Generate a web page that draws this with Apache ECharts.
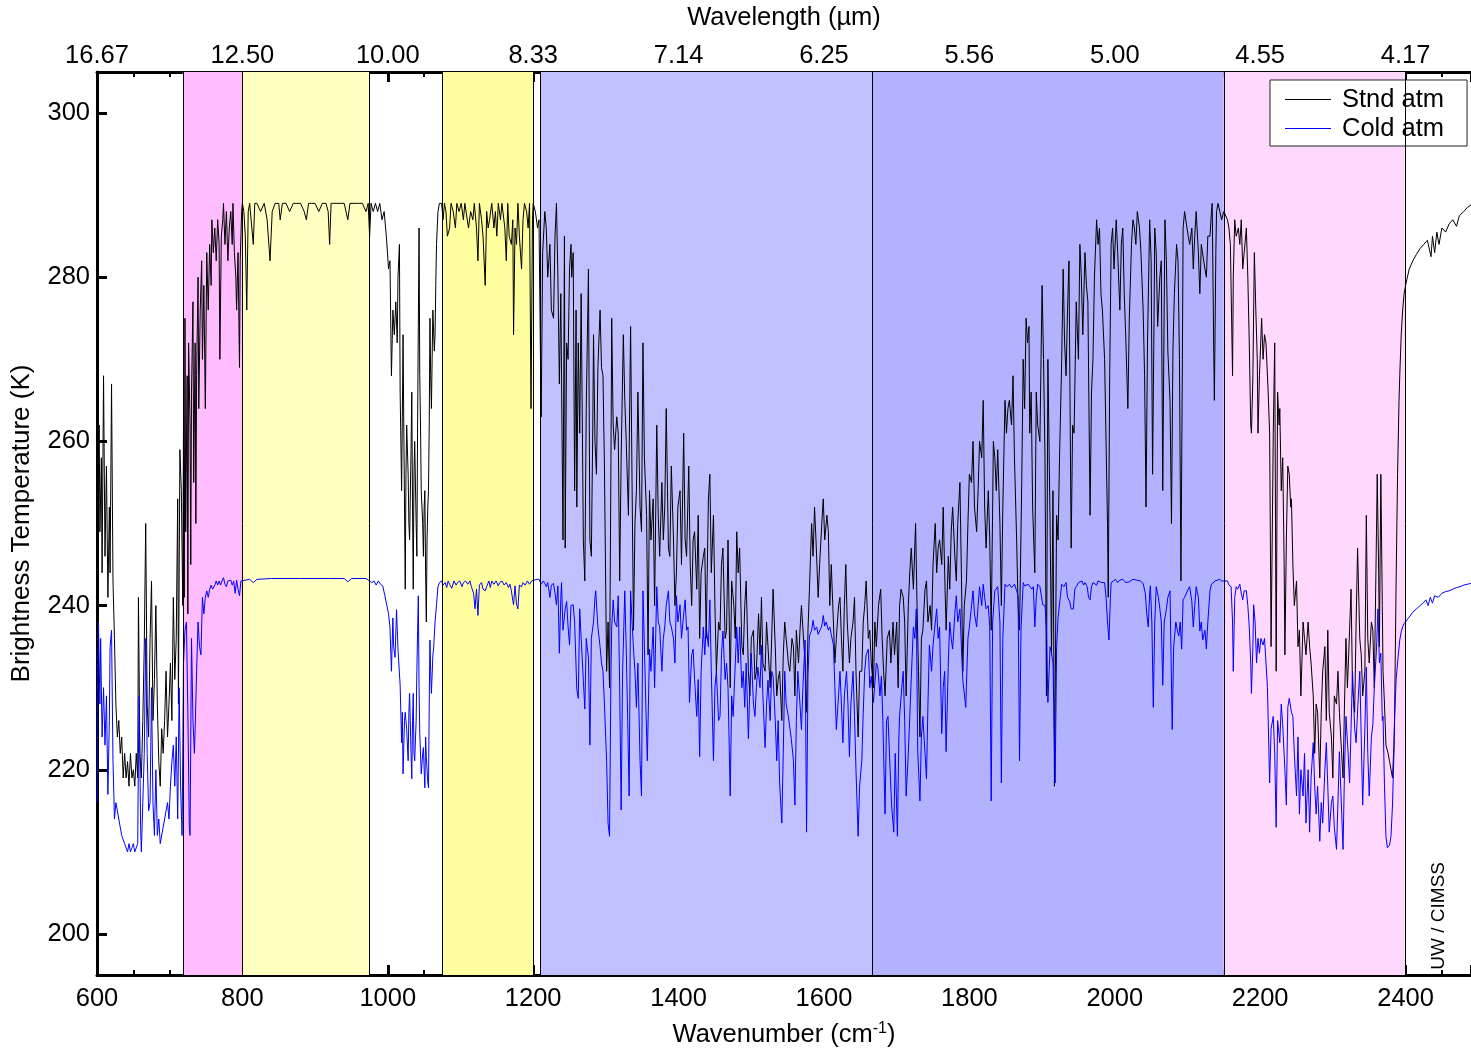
<!DOCTYPE html>
<html>
<head>
<meta charset="utf-8">
<title>Brightness temperature spectra</title>
<script src="https://cdn.jsdelivr.net/npm/echarts@6/dist/echarts.min.js"></script>
<style>
  html, body { margin: 0; padding: 0; background: #fff; }
  #chart { width: 1471px; height: 1051px; }
</style>
</head>
<body>
<div id="chart"></div>
<script>
// ---- Spectral bands shaded behind the spectra: [from, to, colour] in cm^-1
const bandEdges = [718, 800, 975, 1075, 1200, 1210, 1666, 2150, 2400];
const bandRanges = [
  [718, 800, '#FFBCFE'],
  [800, 975, '#FFFFC2'],
  [1075, 1200, '#FFFF9F'],
  [1210, 1666, '#C0C0FF'],
  [1666, 2150, '#B2B2FF'],
  [2150, 2400, '#FFD8FE']
];

// ---- Axis ticks
const wavenumberTicks = [600, 800, 1000, 1200, 1400, 1600, 1800, 2000, 2200, 2400];
const temperatureTicks = [200, 220, 240, 260, 280, 300];

// ---- Standard atmosphere brightness temperature [wavenumber cm^-1, K]
const stdCO2Band = [[600,238],[601,252],[603,262],[604,249],[606,258],[607,244],[609,268],[611,246],[613,257],[615,241],[617,252],[618,244],[620,267],[622,243],[624,236],[626,228],[628,224],[630,226],[632,222],[634,224],[636,219],[638,222],[640,219],[642,221],[644,218],[646,222],[648,219],[650,220],[652,218],[654,222],[656,219],[657,241],[659,222],[661,219],[663,226],[665,235],[667,250],[669,228],[671,224],[673,236],[675,243],[677,226],[679,231],[681,240],[683,228],[685,221],[687,218],[689,225],[691,222],[693,226],[695,232],[697,224],[699,228],[701,233],[703,226],[705,241],[707,231],[709,236],[711,253],[712,228],[714,259],[716,254],[718,240],
  [719,262],[720,241],[721,275],[722,249],[724,268],[725,239],[726,272],[728,262],[729,245],[730,266],[732,277],[733,255],[735,272],[736,250],[737,268],[739,280],[740,264],[742,276],[744,282],[745,270],[747,279],[749,264],[751,283],[753,276],[755,284],[757,279],[758,287],[760,283],[762,286],[764,282],[766,287],[768,284],[769,270],[771,285],[773,287],[774,289],[776,284],[778,288],[780,282],[782,286],[784,288],[786,284],[787,289],[789,283],[791,280],[792,276],[794,283],[796,269],[797,282],[799,288]];

const stdWindow = [[800,289],[802,288],[804,285],[806,276],[808,288],[810,289],[812,287],[815,284],[817,289],[820,289],[825,288],[830,289],[834,287],[838,282],[841,288],[845,289],[850,289],[852,287],[855,289],[860,289],[865,288],[870,289],[875,289],[880,289],[885,288],[888,287],[891,289],[895,289],[900,289],[905,288],[910,289],[915,289],[918,288],[920,284],[922,289],[925,289],[930,289],[935,289],[940,289],[945,287],[948,289],[955,289],[960,289],[965,289],[970,288],[973,289],[975,285]];

const stdOzone = [[977,289],[980,288],[983,289],[986,288],[989,289],[992,287],[995,288],[998,285],[1001,281],[1003,282],[1005,268],[1007,276],[1009,273],[1011,277],[1013,272],[1014,280],[1016,284],[1017,266],[1019,254],[1020,263],[1021,273],[1022,262],[1024,242],[1025,256],[1026,262],[1028,256],[1029,250],[1030,248],[1032,259],[1033,266],[1034,252],[1035,242],[1036,256],[1037,260],[1039,250],[1040,246],[1041,262],[1042,274],[1043,286],[1044,268],[1045,262],[1046,254],[1048,250],[1049,246],[1050,252],[1051,254],[1052,244],[1053,238],[1054,248],[1055,252],[1056,254],[1057,262],[1058,275],[1059,268],[1060,264],[1061,270],[1062,276],[1064,271],[1065,273],[1066,279],[1067,284],[1068,286],[1069,288],[1071,289],[1074,289]];

const stdWindow2 = [[1076,287],[1078,289],[1080,288],[1082,285],[1085,286],[1087,289],[1090,288],[1093,286],[1095,289],[1098,288],[1101,289],[1104,287],[1106,289],[1108,289],[1111,286],[1114,288],[1117,287],[1119,289],[1122,286],[1124,282],[1126,289],[1129,287],[1131,285],[1134,279],[1136,288],[1138,286],[1140,287],[1143,289],[1146,286],[1148,288],[1150,285],[1152,289],[1155,287],[1157,289],[1159,289],[1161,286],[1163,282],[1165,289],[1167,285],[1170,284],[1172,287],[1173,273],[1175,286],[1177,284],[1179,289],[1181,285],[1184,281],[1186,287],[1188,289],[1191,288],[1193,286],[1195,289],[1197,264],[1199,287],[1200,289]];

const stdWaterBand = [[1203,288],[1206,286],[1208,287],[1210,270],[1211,263],[1213,283],[1216,288],[1218,286],[1220,280],[1223,284],[1225,276],[1228,275],[1230,285],[1232,289],[1234,280],[1236,267],[1238,278],[1241,248],[1243,285],[1244,247],[1246,272],[1248,270],[1250,281],[1252,284],[1253,280],[1255,283],[1257,254],[1259,276],[1260,252],[1262,272],[1264,261],[1266,278],[1269,248],[1271,243],[1273,264],[1276,281],[1278,248],[1280,246],[1282,262],[1283,273],[1285,260],[1287,256],[1289,269],[1292,276],[1294,269],[1296,268],[1298,257],[1301,232],[1303,238],[1305,230],[1307,258],[1308,275],[1310,262],[1312,259],[1315,263],[1317,261],[1319,243],[1321,258],[1324,273],[1326,265],[1328,260],[1331,251],[1334,274],[1336,255],[1338,237],[1340,250],[1342,254],[1344,266],[1347,252],[1349,249],[1351,272],[1353,258],[1356,251],[1358,234],[1360,254],[1362,248],[1365,253],[1367,240],[1370,262],[1372,251],[1374,246],[1377,255],[1379,248],[1381,252],[1383,264],[1386,247],[1388,246],[1390,257],[1393,248],[1395,240],[1397,244],[1399,252],[1402,254],[1404,245],[1407,261],[1409,248],[1411,246],[1414,257],[1416,245],[1418,240],[1420,248],[1422,249],[1425,242],[1427,251],[1429,236],[1431,244],[1434,246],[1436,247],[1438,236],[1441,253],[1443,256],[1445,244],[1448,251],[1450,240],[1452,232],[1455,238],[1457,237],[1459,245],[1461,247],[1464,236],[1466,237],[1468,248],[1471,230],[1473,243],[1476,240],[1478,236],[1480,249],[1482,244],[1484,247],[1487,235],[1489,234],[1491,240],[1493,243],[1496,232],[1498,229],[1500,236],[1503,237],[1505,231],[1507,232],[1510,239],[1512,234],[1514,241],[1516,233],[1519,232],[1521,238],[1523,235],[1526,230],[1528,236],[1530,242],[1533,235],[1535,229],[1537,231],[1539,232],[1542,226],[1544,234],[1546,238],[1548,238],[1551,233],[1553,232],[1556,236],[1558,235],[1560,229],[1562,237],[1565,233],[1567,237],[1569,240],[1571,240],[1574,233],[1576,227],[1578,237],[1580,242],[1583,250],[1585,246],[1587,252],[1589,248],[1592,241],[1594,245],[1597,250],[1599,253],[1601,248],[1604,251],[1606,249],[1608,240],[1610,245],[1613,238],[1615,233],[1617,236],[1620,240],[1622,241],[1624,236],[1626,232],[1628,240],[1630,245],[1632,238],[1635,233],[1637,236],[1640,238],[1642,241],[1644,232],[1647,224],[1649,232],[1652,232],[1654,238],[1656,240],[1658,243],[1661,236],[1663,237],[1665,233],[1668,230]];

const stdWaterBand2 = [[1670,238],[1672,235],[1675,240],[1678,242],[1680,236],[1682,232],[1684,229],[1687,236],[1690,237],[1692,233],[1695,238],[1697,234],[1700,238],[1702,230],[1704,240],[1706,242],[1709,241],[1711,238],[1713,229],[1716,240],[1718,244],[1720,247],[1723,242],[1726,250],[1728,240],[1730,232],[1732,224],[1734,236],[1736,237],[1739,242],[1741,243],[1743,238],[1746,240],[1748,237],[1750,245],[1753,250],[1755,244],[1757,247],[1759,248],[1762,245],[1764,252],[1766,244],[1768,237],[1771,246],[1773,242],[1775,249],[1777,252],[1780,246],[1782,243],[1784,250],[1787,255],[1789,244],[1791,232],[1793,240],[1796,243],[1798,250],[1800,256],[1803,255],[1805,260],[1807,252],[1810,249],[1812,254],[1814,260],[1817,258],[1819,265],[1821,252],[1823,247],[1826,254],[1828,248],[1830,237],[1832,252],[1833,260],[1835,258],[1837,254],[1839,259],[1842,250],[1844,240],[1846,252],[1849,265],[1851,261],[1853,264],[1855,265],[1858,262],[1860,268],[1862,258],[1865,248],[1867,240],[1869,237],[1872,255],[1874,270],[1876,264],[1878,275],[1880,272],[1882,274],[1883,261],[1885,266],[1887,252],[1890,244],[1892,266],[1894,262],[1897,260],[1900,279],[1902,270],[1904,258],[1906,229],[1908,270],[1911,250],[1913,234],[1915,254],[1917,218],[1920,251],[1922,248],[1924,258],[1927,270],[1929,281],[1931,272],[1933,268],[1935,276],[1937,282],[1940,247],[1942,262],[1944,261],[1947,277],[1950,270],[1952,284],[1954,280],[1956,273],[1959,283],[1961,279],[1963,277],[1966,251],[1968,266],[1970,270],[1972,280],[1975,287],[1977,284],[1979,286],[1981,278],[1983,276],[1986,270],[1988,260],[1990,250],[1991,241],[1993,268],[1995,284],[1997,286],[1999,281],[2002,287],[2004,283],[2007,276],[2009,284],[2011,286],[2013,278],[2015,273],[2018,264],[2020,275],[2023,284],[2025,287],[2027,286],[2029,284],[2031,288],[2034,286],[2036,283],[2039,276],[2041,268],[2043,252],[2045,272],[2048,287],[2050,282],[2052,256],[2054,275],[2055,286],[2057,283],[2059,274],[2062,280],[2064,282],[2066,254],[2068,277],[2069,287],[2071,282],[2073,271],[2076,265],[2078,250],[2080,271],[2082,278],[2085,284],[2087,282],[2089,270],[2091,243],[2093,270],[2094,286],[2096,288],[2098,288],[2101,285],[2103,284],[2106,286],[2108,281],[2110,285],[2112,288],[2115,283],[2117,278],[2119,284],[2121,284],[2124,281],[2126,280],[2128,285],[2131,285],[2133,288],[2134,289],[2136,272],[2137,265],[2139,283],[2140,288],[2142,289],[2144,289],[2147,287],[2150,288]];

const stdCO2Edge = [[2152,288],[2155,287],[2157,286],[2159,284],[2162,268],[2163,280],[2165,287],[2167,285],[2170,286],[2172,284],[2174,287],[2176,281],[2178,283],[2181,286],[2183,280],[2185,272],[2187,262],[2188,261],[2190,268],[2192,283],[2194,276],[2196,270],[2197,261],[2199,268],[2202,275],[2204,270],[2206,273],[2208,272],[2211,266],[2213,261],[2215,235],[2217,252],[2218,261],[2220,272],[2222,232],[2223,250],[2224,266],[2226,262],[2227,264],[2229,254],[2231,258],[2233,245],[2234,234],[2236,248],[2238,257],[2240,256],[2242,252],[2243,253],[2245,245],[2247,240],[2250,243],[2252,235],[2254,237],[2256,229],[2259,238],[2261,236],[2263,234],[2266,238],[2268,235],[2270,233],[2273,229],[2275,222],[2277,228],[2279,227],[2282,219],[2284,227],[2286,232],[2289,235],[2291,226],[2293,237],[2295,227],[2298,224],[2300,219],[2302,229],[2305,228],[2307,232],[2309,227],[2312,222],[2314,219],[2316,228],[2318,236],[2320,230],[2323,237],[2325,242],[2327,230],[2330,227],[2332,238],[2334,247],[2337,236],[2339,234],[2341,229],[2344,232],[2346,251],[2348,236],[2350,233],[2353,238],[2355,237],[2357,230],[2360,249],[2361,256],[2363,244],[2364,235],[2366,256],[2368,240],[2369,232],[2371,228],[2373,223],[2376,222],[2378,221],[2380,220],[2382,219],[2384,223],[2385,227],[2387,243],[2389,256],[2391,265],[2392,268],[2394,273],[2396,276],[2398,278],[2400,279],[2405,281],[2410,282],[2415,282.8],[2420,283.5],[2425,284],[2430,284.5],[2435,282.5],[2437,285],[2440,283],[2443,285.5],[2446,284],[2450,286],[2455,285.5],[2460,286.5],[2465,287],[2470,286.2],[2474,287.5],[2480,288],[2485,288.5],[2490,288.8]];

// ---- Cold atmosphere brightness temperature [wavenumber cm^-1, K]
const coldCO2Band = [[600,216],[601,232],[602,238],[604,228],[605,236],[607,224],[609,230],[611,223],[613,229],[615,217],[617,226],[618,235],[620,237],[622,221],[624,214],[626,216],[628,215],[630,214],[632,213],[634,212],[636,212],[638,211],[640,211],[642,210],[644,211],[646,210],[648,210.5],[650,211],[652,210],[654,210],[656,211],[657,222],[658,229],[660,213],[661,210],[663,216],[665,222],[667,236],[669,222],[671,215],[673,216],[675,230],[677,216],[679,212],[681,220],[683,212],[685,214],[687,211],[689,211],[691,213],[693,213],[695,215],[697,216],[699,214],[701,218],[703,221],[705,223],[707,218],[709,224],[711,214],[713,230],[715,218],[717,212],[719,233],[721,237],[723,238],[725,227],[727,213],[728,212],[730,236],[732,226],[734,222],[735,225],[737,232],[739,238],[741,235],[743,234],[745,241],[747,239],[749,241],[751,241.8],[753,241],[755,242],[757,242.5],[759,242],[762,242.5],[764,243],[766,242.5],[768,243],[770,242.5],[772,243],[774,243.4],[776,242.6],[778,242.3],[780,243],[782,242.8],[784,243.1],[786,242.5],[788,243],[790,241.5],[792,243.1],[794,242],[796,241.2],[798,243]];

const coldWindow = [[800,243.2],[810,243.2],[815,242.8],[820,243.2],[840,243.3],[860,243.3],[880,243.3],[900,243.3],[920,243.3],[940,243.3],[945,242.9],[950,243.3],[970,243.3],[975,243]];

const coldOzone = [[978,242.8],[981,243],[984,242.5],[987,243],[990,242.6],[993,242.4],[996,241.2],[998,241],[1001,239],[1003,237.4],[1005,232],[1007,238.5],[1008,235],[1010,233.7],[1012,239.5],[1014,234.7],[1017,230.3],[1019,223.3],[1020,227],[1021,219.5],[1023,226],[1024,227],[1026,224.9],[1028,221.1],[1029,227],[1030,229.3],[1032,222],[1033,218.9],[1034,226],[1035,229.3],[1036,222],[1037,221.1],[1039,226],[1040,232],[1041,237],[1042,241.2],[1043,230],[1044,224.4],[1046,219.5],[1048,222],[1049,222.7],[1050,220],[1051,217.8],[1052,224],[1053,221.6],[1055,218.5],[1056,217.8],[1057,228],[1058,235.8],[1059,232],[1060,229.3],[1062,234],[1063,234.7],[1065,238],[1067,240.1],[1069,242.3],[1071,242.8],[1074,243]];

const coldWindow2 = [[1076,242.5],[1079,242.8],[1081,242.2],[1083,243],[1085,242.6],[1088,242.1],[1091,243],[1094,242.5],[1096,242.8],[1099,243],[1102,242.3],[1104,242.8],[1107,243],[1110,242.6],[1113,243],[1115,242.3],[1118,241.5],[1120,239.6],[1122,242],[1124,238.8],[1126,242.5],[1129,242.8],[1131,242],[1134,241.8],[1136,242.3],[1139,243],[1141,242.2],[1143,243],[1146,242.6],[1149,243],[1152,242.4],[1154,242.8],[1157,243],[1160,242.5],[1163,242.8],[1166,242.2],[1168,242.6],[1170,241.8],[1172,240.6],[1173,240.1],[1175,242.4],[1177,240.2],[1179,239.6],[1181,242.5],[1184,242.3],[1186,242.8],[1189,242.5],[1192,243],[1195,242.6],[1198,243],[1201,243.1],[1205,243.2]];

const coldWaterBand = [[1208,243.2],[1211,242.6],[1214,243],[1216,242.7],[1218,242.3],[1220,242.8],[1223,241],[1225,242.5],[1228,242.7],[1230,241.5],[1232,240.1],[1234,242.4],[1236,234.2],[1238,241],[1239,242.8],[1241,237],[1244,239.6],[1246,240.5],[1248,237.4],[1250,235.2],[1252,240],[1255,240.1],[1257,238],[1260,229.8],[1262,228.7],[1264,239.6],[1266,236],[1269,230.9],[1271,227.4],[1273,236],[1276,233.6],[1278,223],[1280,236],[1283,238],[1285,241],[1286,241.8],[1289,237.4],[1292,235],[1294,233],[1296,232],[1298,228],[1301,221.1],[1303,213.5],[1305,211.9],[1307,232],[1308,237.4],[1310,240.7],[1312,238],[1315,237.4],[1317,241.2],[1319,230],[1321,215.1],[1323,232],[1326,241.8],[1328,234.7],[1330,226],[1332,216.8],[1334,241.8],[1336,238],[1338,234.7],[1340,232],[1342,227.6],[1344,233],[1347,221.1],[1349,216.8],[1351,241.8],[1353,235],[1355,227.6],[1357,221.1],[1360,234.7],[1362,232],[1365,237.4],[1367,230],[1370,242.3],[1372,238],[1374,237.4],[1377,232],[1379,236],[1381,237.4],[1383,240],[1386,241.8],[1388,238],[1390,237.4],[1393,236],[1395,233],[1397,241.2],[1399,238],[1402,240.1],[1404,236],[1407,239],[1409,240.7],[1411,237],[1413,237.4],[1415,228.2],[1418,234],[1420,234.7],[1422,231],[1425,226.5],[1427,231],[1429,221.6],[1431,232],[1434,237.4],[1436,234],[1438,237.4],[1441,235],[1443,240.7],[1445,232],[1448,221.1],[1450,230],[1452,232],[1455,226],[1457,226.5],[1459,234],[1461,236.9],[1464,231],[1466,233],[1468,230],[1471,216.8],[1473,229],[1475,226.5],[1478,233],[1480,237.4],[1482,233],[1484,237.4],[1487,230],[1489,232],[1491,227.6],[1493,233],[1496,223.8],[1498,230],[1500,234.2],[1503,228],[1505,226.5],[1507,230],[1509,232.5],[1512,230],[1514,235.2],[1516,229],[1519,222.7],[1521,228],[1523,230.9],[1526,226],[1528,232],[1530,231.4],[1533,226],[1535,221.1],[1537,226],[1539,218.4],[1542,213.5],[1544,222],[1546,232],[1548,228],[1551,226.5],[1553,226.5],[1555,223.8],[1558,221.1],[1560,215.7],[1562,226],[1564,232],[1567,228],[1569,224.9],[1571,230],[1574,235.8],[1576,212.4],[1578,231.4],[1580,236.3],[1583,237],[1585,238.2],[1587,237],[1590,237.4],[1592,236.5],[1594,236.3],[1597,237.5],[1599,238.8],[1601,237.5],[1603,238],[1606,237],[1608,237.4],[1610,236.5],[1613,235.2],[1615,230],[1617,224.9],[1620,229],[1622,232],[1624,228],[1626,223.3],[1628,229],[1631,232],[1633,228],[1635,221.6],[1637,228],[1640,232],[1642,226.5],[1644,220],[1647,211.9],[1649,218],[1652,221.1],[1654,227],[1656,232],[1658,234],[1661,234.7],[1663,230],[1665,231.4],[1668,228.2]];

const coldWaterBand2 = [[1670,228.2],[1672,233],[1674,232.5],[1677,229],[1679,231.4],[1681,226],[1684,214.6],[1686,226],[1688,226.5],[1691,220],[1693,215.7],[1696,212.4],[1698,222],[1701,211.9],[1703,224],[1704,226.5],[1707,230],[1709,232],[1711,226],[1713,216.8],[1716,222],[1718,226.5],[1720,231],[1723,237.4],[1725,236],[1727,239.6],[1729,222.2],[1732,216.2],[1734,224],[1736,226.5],[1739,222],[1741,218.9],[1743,228],[1745,235.2],[1748,232],[1750,235.2],[1752,237],[1755,239.6],[1757,236],[1759,237.4],[1762,224.4],[1764,230],[1766,232],[1768,222.2],[1771,233],[1773,238],[1775,236],[1777,234.7],[1780,239],[1782,241.2],[1784,238],[1787,239.6],[1789,235],[1791,230.9],[1793,231],[1795,227.6],[1798,236],[1800,237.4],[1803,240],[1805,241.8],[1807,239],[1810,237.4],[1812,240],[1814,242.3],[1817,240],[1819,242.6],[1821,241],[1823,239.6],[1826,240],[1828,237.4],[1830,216.2],[1832,238],[1835,241.8],[1837,242],[1839,242.3],[1842,238],[1844,218.4],[1846,236],[1849,242.6],[1852,242.3],[1855,242.6],[1858,242.2],[1862,242.6],[1865,241.8],[1867,241.2],[1869,221.1],[1871,237],[1874,242.8],[1876,242.4],[1878,242.3],[1881,242.6],[1883,242.6],[1886,242],[1888,242.3],[1890,237.4],[1892,241],[1894,242.6],[1897,242.3],[1899,242.3],[1901,240.1],[1904,240],[1906,237.4],[1908,228.2],[1911,235],[1913,234.2],[1915,233],[1918,218.4],[1920,235],[1922,238.5],[1925,241],[1927,242.6],[1930,242.3],[1933,242.8],[1935,241],[1938,240.5],[1940,239.6],[1943,239.6],[1945,242],[1947,242.3],[1950,242.8],[1952,242.6],[1955,243],[1957,242.5],[1959,242.8],[1962,242.3],[1964,241],[1966,240.7],[1968,242.3],[1970,242.8],[1972,243],[1975,242.5],[1977,243],[1979,243.1],[1982,242.8],[1984,243],[1986,242.8],[1988,241],[1990,238],[1992,235.8],[1994,241],[1995,242.8],[1998,243],[2001,243.2],[2004,242.8],[2007,243.1],[2011,243.2],[2015,242.8],[2020,242.9],[2025,243.2],[2030,243.1],[2035,243],[2039,242.7],[2042,241.5],[2044,239],[2046,237.4],[2048,241.5],[2049,242.4],[2051,238],[2053,227.6],[2055,238],[2057,242.3],[2060,241],[2062,239.6],[2064,238],[2066,230.3],[2068,238],[2071,239.6],[2073,241],[2076,241.8],[2079,224.9],[2081,235],[2084,238],[2086,237],[2088,236.3],[2090,238],[2092,234.7],[2094,240.7],[2096,241],[2098,241.2],[2101,242],[2103,242.3],[2106,240.5],[2108,237.4],[2110,240],[2112,242.3],[2115,241],[2117,236.9],[2119,238],[2121,235.8],[2124,237],[2126,234.7],[2128,238],[2131,241.8],[2133,242.6],[2135,242.8],[2138,243],[2141,243.1],[2144,243.2],[2147,243],[2150,243]];

const coldCO2Edge = [[2152,242.8],[2155,243],[2157,242.5],[2160,242.3],[2162,238],[2163,232],[2165,241],[2167,242.3],[2169,242],[2172,242.6],[2174,241.5],[2176,240.7],[2178,241.8],[2181,241.8],[2183,240],[2185,237.4],[2187,233],[2188,229.3],[2190,235],[2191,240.1],[2193,238],[2195,233],[2197,236],[2199,234.2],[2201,236],[2204,235.2],[2206,236],[2208,233],[2210,230],[2213,218.4],[2215,225],[2218,226.5],[2220,222],[2222,213],[2224,226],[2227,223.3],[2229,228],[2231,225.5],[2234,220],[2236,215.7],[2238,227.6],[2240,228.7],[2243,227],[2245,226.5],[2247,222],[2250,216.8],[2252,224],[2254,214.6],[2256,220],[2259,216.8],[2261,222],[2263,213.5],[2266,220],[2268,212.4],[2270,219],[2273,223.3],[2275,218],[2277,214.6],[2279,218],[2282,211.3],[2284,216],[2286,213.5],[2289,220],[2291,223.3],[2293,218],[2295,212.4],[2298,216],[2300,216.8],[2302,213],[2305,210.3],[2307,216],[2309,222.2],[2312,215],[2314,210.3],[2316,220],[2318,226.5],[2321,222],[2323,218.4],[2325,225],[2327,232],[2330,225],[2332,223.3],[2335,229],[2337,232],[2339,224],[2341,215.7],[2344,225],[2346,232.5],[2348,222],[2350,216.8],[2353,224],[2355,225.5],[2357,230],[2360,234.7],[2362,239.6],[2364,233],[2366,234.2],[2368,226],[2369,226.5],[2371,218],[2373,211.9],[2375,210.5],[2378,210.8],[2380,212],[2382,215.7],[2384,222],[2385,226.5],[2387,231],[2388,232],[2390,234],[2392,235.8],[2394,236.8],[2396,237.4],[2398,237.8],[2400,238],[2405,238.6],[2410,239.2],[2415,239.6],[2420,240],[2425,240.4],[2428,240.7],[2431,240],[2434,241],[2437,240.3],[2440,241.2],[2445,241],[2450,241.5],[2455,241.7],[2460,241.8],[2465,242],[2470,242.2],[2475,242.3],[2480,242.5],[2485,242.6],[2490,242.7]];

const stdAtm = [].concat(stdCO2Band, stdWindow, stdOzone, stdWindow2, stdWaterBand, stdWaterBand2, stdCO2Edge);
const coldAtm = [].concat(coldCO2Band, coldWindow, coldOzone, coldWindow2, coldWaterBand, coldWaterBand2, coldCO2Edge);

const FONT = '"Liberation Sans", Arial, sans-serif';
const X_MIN = 600, X_MAX = 2490;

const chart = echarts.init(document.getElementById('chart'), null, { renderer: 'canvas' });

const commonX = {
  type: 'value',
  min: X_MIN,
  max: X_MAX,
  interval: 200,
  nameMoveOverlap: false,
  splitLine: { show: false },
  axisLine: { show: true, onZero: false, lineStyle: { color: '#000', width: 3 } },
  axisTick: { show: true, inside: true, length: 10, lineStyle: { color: '#000', width: 3 } },
  minorTick: { show: true, splitNumber: 4, length: 5, lineStyle: { color: '#000', width: 2 } }
};

chart.setOption({
  animation: false,
  backgroundColor: '#fff',
  grid: { left: 97, right: 0, top: 72, bottom: 76, containLabel: false, outerBoundsMode: 'none' },
  legend: {
    orient: 'vertical',
    left: 1270,
    top: 80,
    backgroundColor: '#fff',
    borderColor: '#222',
    borderWidth: 1,
    padding: [6, 23, 4, 15],
    itemGap: 2,
    itemWidth: 46,
    itemHeight: 1,
    icon: 'rect',
    textStyle: { fontFamily: FONT, fontSize: 25.5, lineHeight: 27, color: '#000', padding: [0, 0, 0, 6] },
    data: ['Stnd atm', 'Cold atm']
  },
  xAxis: [
    Object.assign({}, commonX, {
      position: 'bottom',
      name: 'Wavenumber (cm{s|-1})',
      nameLocation: 'middle',
      nameGap: 46,
      nameTextStyle: {
        fontFamily: FONT, fontSize: 25.5, color: '#000',
        rich: { s: { fontFamily: FONT, fontSize: 16, color: '#000', verticalAlign: 'top', padding: [0, 0, 12, 0] } }
      },
      axisLabel: {
        show: true, margin: 11, fontFamily: FONT, fontSize: 25.5, color: '#000',
        customValues: wavenumberTicks,
        formatter: function (v) { return String(v); }
      }
    }),
    Object.assign({}, commonX, {
      position: 'top',
      name: 'Wavelength (µm)',
      nameLocation: 'middle',
      nameGap: 41,
      nameTextStyle: { fontFamily: FONT, fontSize: 25.5, color: '#000' },
      axisLabel: {
        show: true, margin: 3, fontFamily: FONT, fontSize: 25.5, color: '#000',
        customValues: wavenumberTicks,
        formatter: function (v) { return (10000 / v).toFixed(2); }
      }
    })
  ],
  yAxis: {
    type: 'value',
    min: 195,
    max: 305,
    name: 'Brightness Temperature (K)',
    nameLocation: 'middle',
    nameGap: 62,
    nameMoveOverlap: false,
    nameTextStyle: { fontFamily: FONT, fontSize: 26, color: '#000' },
    splitLine: { show: false },
    axisLine: { show: true, onZero: false, lineStyle: { color: '#000', width: 3 } },
    axisTick: { show: true, inside: true, length: 10, customValues: temperatureTicks, lineStyle: { color: '#000', width: 3 } },
    axisLabel: { show: true, margin: 7, fontFamily: FONT, fontSize: 25.5, color: '#000', customValues: temperatureTicks }
  },
  graphic: [{
    type: 'text',
    left: 1429,
    top: 862,
    rotation: Math.PI / 2,
    style: { text: 'UW / CIMSS', font: '19px ' + FONT, fill: '#000' }
  }],
  series: [
    {
      name: 'bands',
      type: 'line',
      xAxisIndex: 0,
      data: [],
      silent: true,
      z: 1,
      markArea: {
        silent: true,
        itemStyle: { opacity: 1 },
        data: bandRanges.map(function (b) {
          return [{ xAxis: b[0], itemStyle: { color: b[2] } }, { xAxis: b[1] }];
        })
      },
      markLine: {
        silent: true,
        symbol: 'none',
        label: { show: false },
        lineStyle: { color: '#000', width: 1, type: 'solid' },
        data: bandEdges.map(function (e) { return { xAxis: e }; })
      }
    },
    {
      name: 'Stnd atm',
      type: 'line',
      xAxisIndex: 0,
      data: stdAtm,
      symbol: 'none',
      showSymbol: false,
      z: 3,
      lineStyle: { color: '#000', width: 1 },
      itemStyle: { color: '#000' }
    },
    {
      name: 'Cold atm',
      type: 'line',
      xAxisIndex: 0,
      data: coldAtm,
      symbol: 'none',
      showSymbol: false,
      z: 4,
      lineStyle: { color: '#0000ff', width: 1 },
      itemStyle: { color: '#0000ff' }
    }
  ]
});
</script>
</body>
</html>
